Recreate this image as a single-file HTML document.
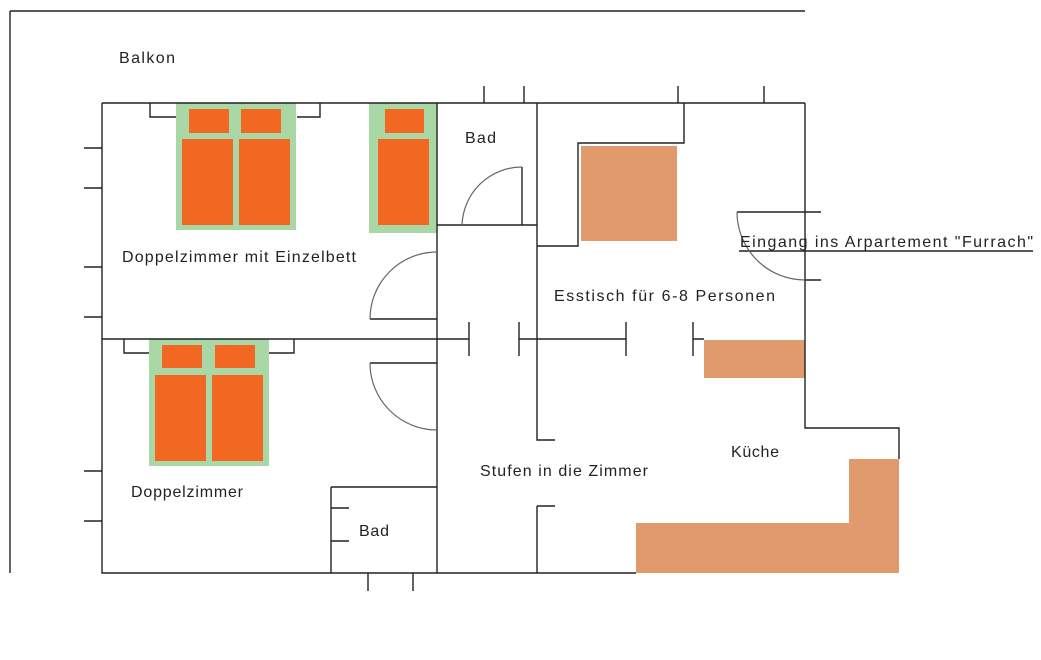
<!DOCTYPE html>
<html><head><meta charset="utf-8"><style>html,body{margin:0;padding:0;background:#fff}svg{display:block}text{font-family:"Liberation Sans",sans-serif;font-size:16px;fill:#222}</style></head>
<body>
<svg width="1041" height="660" viewBox="0 0 1041 660" xmlns="http://www.w3.org/2000/svg">
<g fill="#a9d7a6">
<rect x="176" y="103" width="120" height="127"/>
<rect x="369" y="103" width="68" height="130"/>
<rect x="149" y="339" width="120" height="127"/>
</g>
<g fill="#f26722">
<rect x="189" y="109" width="40" height="24"/><rect x="241" y="109" width="40" height="24"/>
<rect x="182" y="139" width="51" height="86"/><rect x="239" y="139" width="51" height="86"/>
<rect x="385" y="109" width="39" height="24"/><rect x="378" y="139" width="51" height="86"/>
<rect x="162" y="345" width="40" height="23"/><rect x="215" y="345" width="40" height="23"/>
<rect x="155" y="375" width="51" height="86"/><rect x="212" y="375" width="51" height="86"/>
</g>
<g fill="#e09a6b">
<rect x="581" y="146" width="96" height="95"/>
<rect x="704" y="340" width="101" height="38"/>
<path d="M849 459H899V573H636V523H849Z"/>
</g>
<g stroke="#222" stroke-width="1.4" fill="none">
<path d="M10 11H805M10 11V573"/>
<path d="M102 103H805M102 103V573H636M805 103V428H899V459"/>
<path d="M437 103V573M537 103V440H555M537 506H555M537 506V573"/>
<path d="M684 103V143H578V246H537"/>
<path d="M102 339H469M469 322V356M519 322V356M519 339H626M626 322V356M693 322V356M693 339H704"/>
<path d="M437 225H537M522 167V225M370 319H437M370 363H437"/>
<path d="M150 103V117H176M320 103V117H297M124 339V353H149M294 339V353H269"/>
<path d="M84 148H102M84 188H102M84 267H102M84 317H102M84 471H102M84 521H102"/>
<path d="M331 487V573M331 487H437M331 508H349M331 541H349M368 573V591M413 573V591"/>
<path d="M484 86V103M524 86V103M678 86V103M764 86V103"/>
<path d="M737 212H821M805 280H821M739 251H1033"/>
</g>
<g stroke="#666" stroke-width="1.2" fill="none">
<path d="M462 225A60 60 0 0 1 522 167"/>
<path d="M370 319A67 67 0 0 1 437 252"/>
<path d="M370 363A67 67 0 0 0 437 430"/>
<path d="M737 212A68 68 0 0 0 805 280"/>
</g>
<text x="119" y="63" textLength="56">Balkon</text>
<text x="465" y="143" textLength="31">Bad</text>
<text x="122" y="262" textLength="234">Doppelzimmer mit Einzelbett</text>
<text x="554" y="301" textLength="221">Esstisch für 6-8 Personen</text>
<text x="740" y="247" textLength="293">Eingang ins Arpartement "Furrach"</text>
<text x="731" y="457" textLength="48">Küche</text>
<text x="480" y="476" textLength="168">Stufen in die Zimmer</text>
<text x="131" y="497" textLength="112">Doppelzimmer</text>
<text x="359" y="536" textLength="30">Bad</text>
</svg>
</body></html>
